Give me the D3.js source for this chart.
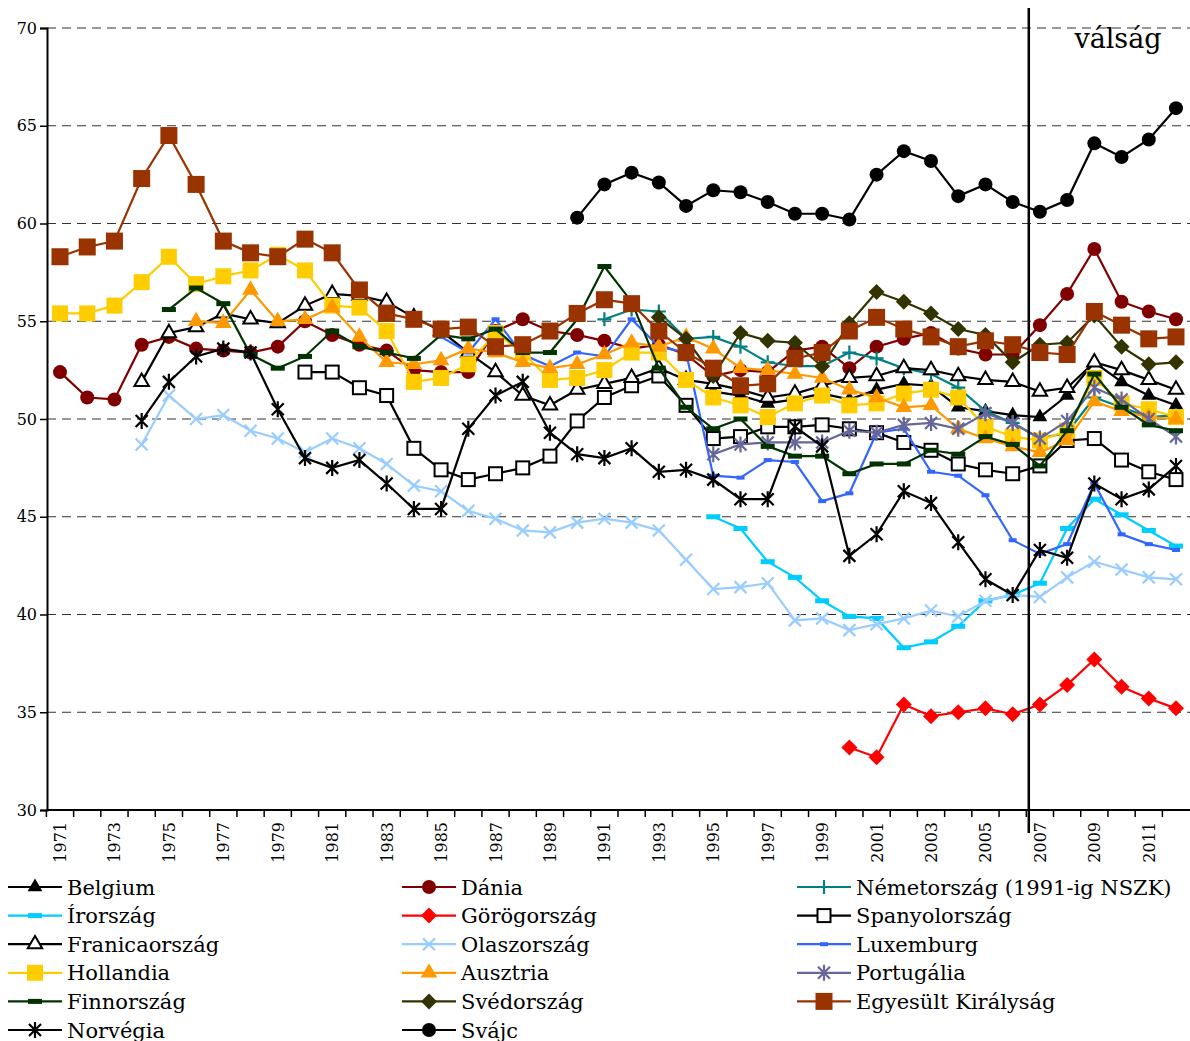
<!DOCTYPE html>
<meta charset="utf-8">
<script src="https://d3js.org/d3.v7.min.js"></script>
<style>
  body { margin: 0; background: #fff; }
  text { font-family: "DejaVu Serif", serif; fill: #000; }
</style>
<body>
  <div id="chart"></div>
</body>
<script>

  // years on the category axis and y ticks
  const years = d3.range(1971, 2013);
  const yTicks = [30, 35, 40, 45, 50, 55, 60, 65, 70];

  // values per country, each list begins at its start year
  const belgium = [51.4, 51.2, 50.8, 51.0, 51.3, 51.0, 51.5, 51.8, 51.7, 50.6, 50.4, 50.2, 50.1, 51.2, 52.9, 51.9, 51.2, 50.7];
  const denmark = [52.4, 51.1, 51.0, 53.8, 54.2, 53.6, 53.5, 53.4, 53.7, 55.0, 54.3, 53.8, 53.5, 52.5, 52.4, 52.4, 54.5, 55.1, 54.5, 54.3,
                   54.0, 53.6, 53.8, 53.3, 52.2, 52.5, 52.4, 53.5, 53.7, 52.6, 53.7, 54.1, 54.4, 53.6, 53.3, 53.3, 54.8, 56.4, 58.7, 56.0, 55.5, 55.1];
  const germany = [55.1, 55.6, 55.5, 54.1, 54.2, 53.7, 52.9, 52.7, 52.7, 53.4, 53.1, 52.6, 52.3, 51.6, 50.4, 49.8, 49.0, 49.3, 51.1, 50.6, 50.1, 50.2];
  const ireland = [45.0, 44.4, 42.7, 41.9, 40.7, 39.9, 39.8, 38.3, 38.6, 39.4, 40.7, 41.0, 41.6, 44.4, 45.9, 45.1, 44.3, 43.5];
  const greece = [33.2, 32.7, 35.4, 34.8, 35.0, 35.2, 34.9, 35.4, 36.4, 37.7, 36.3, 35.7, 35.2];
  const spain = [52.4, 52.4, 51.6, 51.2, 48.5, 47.4, 46.9, 47.2, 47.5, 48.1, 49.9, 51.1, 51.7, 52.2, 50.7, 49.0, 49.1, 49.6, 49.6, 49.7,
                 49.5, 49.3, 48.8, 48.4, 47.7, 47.4, 47.2, 47.6, 48.9, 49.0, 47.9, 47.3, 46.9];
  const france = [51.9, 54.4, 54.7, 55.4, 55.1, 54.9, 55.8, 56.4, 56.3, 56.0, 55.2, 54.5, 53.4, 52.4, 51.2, 50.7, 51.5, 51.8, 52.1, 52.6,
                  52.0, 51.8, 51.5, 51.1, 51.3, 51.7, 52.1, 52.2, 52.6, 52.5, 52.2, 52.0, 51.9, 51.4, 51.6, 52.9, 52.5, 52.0, 51.5];
  const italy = [48.7, 51.2, 50.0, 50.2, 49.4, 49.0, 48.3, 49.0, 48.5, 47.7, 46.6, 46.3, 45.3, 44.9, 44.3, 44.2, 44.7, 44.9, 44.7, 44.3,
                 42.8, 41.3, 41.4, 41.6, 39.7, 39.8, 39.2, 39.5, 39.8, 40.2, 39.9, 40.7, 41.0, 40.9, 41.9, 42.7, 42.3, 41.9, 41.8];
  const luxembourg = [54.2, 53.4, 55.1, 53.3, 52.7, 53.4, 53.2, 55.1, 53.7, 53.4, 47.1, 47.0, 47.9, 47.8, 45.8, 46.2, 49.3, 49.5, 47.3, 47.1,
                      46.1, 43.8, 43.1, 43.6, 46.7, 44.1, 43.6, 43.3];
  const netherlands = [55.4, 55.4, 55.8, 57.0, 58.3, 56.9, 57.3, 57.6, 58.4, 57.6, 55.8, 55.7, 54.5, 51.9, 52.1, 52.8, 54.4, 53.4, 52.0, 52.1,
                       52.5, 53.4, 53.4, 52.0, 51.1, 50.7, 50.1, 50.8, 51.2, 50.7, 50.8, 51.3, 51.5, 51.1, 49.6, 49.1, 48.9, 49.4, 52.1, 50.8, 50.5, 50.1];
  const austria = [55.0, 54.9, 56.6, 55.0, 55.1, 55.7, 54.2, 52.9, 52.8, 53.0, 53.6, 53.4, 52.9, 52.6, 52.8, 53.3, 53.9, 53.7, 54.2, 53.6,
                   52.6, 52.5, 52.3, 52.1, 51.5, 51.1, 50.6, 50.7, 49.5, 49.0, 48.6, 48.3, 48.9, 50.9, 50.4, 50.1, 50.0];
  const portugal = [48.2, 48.7, 48.8, 48.8, 48.8, 49.4, 49.3, 49.7, 49.8, 49.5, 50.3, 49.8, 49.0, 49.9, 51.6, 51.0, 50.0, 49.1];
  const finland = [55.6, 56.7, 55.9, 53.3, 52.6, 53.2, 54.5, 53.7, 53.4, 53.1, 54.3, 54.1, 54.6, 53.4, 53.4, 55.1, 57.8, 56.0, 52.6, 50.6,
                   49.5, 50.0, 48.6, 48.1, 48.1, 47.2, 47.7, 47.7, 48.4, 48.2, 49.1, 48.7, 47.6, 49.4, 52.3, 50.6, 49.7, 49.4];
  const sweden = [55.2, 54.1, 52.2, 54.4, 54.0, 53.9, 52.7, 54.9, 56.5, 56.0, 55.4, 54.6, 54.3, 52.9, 53.8, 53.9, 55.3, 53.7, 52.8, 52.9];
  const uk = [58.3, 58.8, 59.1, 62.3, 64.5, 62.0, 59.1, 58.5, 58.3, 59.2, 58.5, 56.6, 55.4, 55.1, 54.6, 54.7, 53.7, 53.8, 54.5, 55.4,
              56.1, 55.9, 54.5, 53.4, 52.6, 51.7, 51.8, 53.1, 53.4, 54.5, 55.2, 54.6, 54.2, 53.7, 54.0, 53.8, 53.4, 53.3, 55.5, 54.8, 54.1, 54.2];
  const norway = [49.9, 51.9, 53.2, 53.6, 53.4, 50.5, 48.0, 47.5, 47.9, 46.7, 45.4, 45.4, 49.5, 51.2, 51.9, 49.3, 48.2, 48.0, 48.5, 47.3,
                  47.4, 46.9, 45.9, 45.9, 49.6, 48.6, 43.0, 44.1, 46.3, 45.7, 43.7, 41.8, 41.0, 43.3, 42.9, 46.7, 45.9, 46.4, 47.6];
  const switzerland = [60.3, 62.0, 62.6, 62.1, 60.9, 61.7, 61.6, 61.1, 60.5, 60.5, 60.2, 62.5, 63.7, 63.2, 61.4, 62.0, 61.1, 60.6, 61.2, 64.1, 63.4, 64.3, 65.9];

  const names = ["Belgium", "Dánia", "Németország (1991-ig NSZK)", "Írország", "Görögország", "Spanyolország",
                 "Franicaország", "Olaszország", "Luxemburg", "Hollandia", "Ausztria", "Portugália",
                 "Finnország", "Svédország", "Egyesült Királyság", "Norvégia", "Svájc"];
  const startYears = [1995, 1971, 1991, 1995, 2000, 1980, 1974, 1974, 1985, 1971, 1976, 1995, 1975, 1993, 1971, 1974, 1990];
  const valueLists = [belgium, denmark, germany, ireland, greece, spain, france, italy, luxembourg,
                      netherlands, austria, portugal, finland, sweden, uk, norway, switzerland];
  const colors = ["#000000", "#800000", "#008080", "#00CCFF", "#FF0000", "#000000", "#000000", "#99CCFF", "#3366FF",
                  "#FFCC00", "#FF9900", "#666699", "#003300", "#333300", "#993300", "#000000", "#000000"];
  const markers = ["tri", "circle", "plus", "dash", "diamond", "opensquare", "opentri", "cross", "smalldash",
                   "square", "bigtri", "star", "dash", "diamond", "bigsquare", "star", "circle"];

  const series = names.map((name, i) => ({
    name: name,
    color: colors[i],
    marker: markers[i],
    points: valueLists[i].map((v, j) => ({ year: startYears[i] + j, v: v }))
  }));

  const W = 1190, H = 1041;
  const svg = d3.select("#chart").append("svg")
    .attr("width", W).attr("height", H);

  const x = d3.scaleBand().domain(years).range([46.4, 1189.6]);
  const bw = x.bandwidth();
  const cx = yr => x(yr) + bw / 2;
  const y = d3.scaleLinear().domain([30, 70]).range([810, 28]);

  // dashed gridlines
  svg.append("g")
    .selectAll("line")
    .data(yTicks.slice(1))
    .join("line")
      .attr("x1", 47).attr("x2", 1190)
      .attr("y1", d => y(d)).attr("y2", d => y(d))
      .attr("stroke", "#333").attr("stroke-width", 1.2)
      .attr("stroke-dasharray", "9,6");

  // y axis
  const yAxis = svg.append("g")
    .attr("transform", "translate(47,0)")
    .call(d3.axisLeft(y).tickValues(yTicks).tickSize(7).tickPadding(3).tickFormat(d3.format("d")));
  yAxis.select(".domain").attr("stroke-width", 2);
  yAxis.selectAll(".tick line").attr("stroke-width", 1.5);
  yAxis.selectAll("text").style("font-family", "DejaVu Serif").style("font-size", "16px");

  // x axis: ticks at category boundaries
  const xg = svg.append("g");
  xg.append("line").attr("x1", 46).attr("x2", 1190).attr("y1", 810).attr("y2", 810)
    .attr("stroke", "#000").attr("stroke-width", 2);
  xg.selectAll(".xt")
    .data(years)
    .join("line")
      .attr("class", "xt")
      .attr("x1", d => x(d)).attr("x2", d => x(d))
      .attr("y1", 810).attr("y2", 817)
      .attr("stroke", "#000").attr("stroke-width", 1.5);
  xg.selectAll(".xl")
    .data(years.filter((d, i) => i % 2 === 0))
    .join("text")
      .attr("class", "xl")
      .attr("transform", d => `translate(${cx(d) + 6},822) rotate(-90)`)
      .attr("text-anchor", "end")
      .style("font-size", "16px")
      .text(d => d);

  // marker drawing
  function marker(g, type, color) {
    switch (type) {
      case "circle":
        g.append("circle").attr("r", 7).attr("fill", color); break;
      case "tri":
        g.append("path").attr("d", d3.symbol(d3.symbolTriangle, 95)()).attr("fill", color); break;
      case "bigtri":
        g.append("path").attr("d", d3.symbol(d3.symbolTriangle, 120)()).attr("fill", color); break;
      case "opentri":
        g.append("path").attr("d", d3.symbol(d3.symbolTriangle, 90)()).attr("fill", "#fff")
          .attr("stroke", color).attr("stroke-width", 2); break;
      case "square":
        g.append("rect").attr("x", -8).attr("y", -8).attr("width", 16).attr("height", 16).attr("fill", color); break;
      case "bigsquare":
        g.append("rect").attr("x", -8.5).attr("y", -8.5).attr("width", 17).attr("height", 17).attr("fill", color); break;
      case "opensquare":
        g.append("rect").attr("x", -6.5).attr("y", -6.5).attr("width", 13).attr("height", 13).attr("fill", "#fff")
          .attr("stroke", color).attr("stroke-width", 2); break;
      case "diamond":
        g.append("path").attr("d", "M0,-8L8,0L0,8L-8,0Z").attr("fill", color); break;
      case "plus":
        g.append("path").attr("d", "M-7,0H7M0,-7V7").attr("stroke", color).attr("stroke-width", 2.2); break;
      case "cross":
        g.append("path").attr("d", "M-6,-6L6,6M-6,6L6,-6").attr("stroke", color).attr("stroke-width", 2.2); break;
      case "star":
        g.append("path").attr("d", "M-6,-6L6,6M-6,6L6,-6M0,-8V8").attr("stroke", color).attr("stroke-width", 2.2); break;
      case "dash":
        g.append("rect").attr("x", -7).attr("y", -2.5).attr("width", 14).attr("height", 5).attr("fill", color); break;
      case "smalldash":
        g.append("rect").attr("x", -4).attr("y", -2).attr("width", 8).attr("height", 4).attr("fill", color); break;
    }
  }

  const line = d3.line().x(d => cx(d.year)).y(d => y(d.v));

  const plot = svg.append("g");
  series.forEach(s => {
    const g = plot.append("g");
    g.append("path")
      .attr("d", line(s.points))
      .attr("fill", "none")
      .attr("stroke", s.color)
      .attr("stroke-width", 2.2);
    g.selectAll(".m")
      .data(s.points)
      .join("g")
        .attr("class", "m")
        .attr("transform", d => `translate(${cx(d.year)},${y(d.v)})`)
        .each(function() { marker(d3.select(this), s.marker, s.color); });
  });

  // crisis line and label
  const crisisX = x(2007) + 2.5;
  svg.append("line")
    .attr("x1", crisisX).attr("x2", crisisX)
    .attr("y1", 8).attr("y2", 833)
    .attr("stroke", "#000").attr("stroke-width", 2.5);
  svg.append("text")
    .attr("x", 1118).attr("y", 48)
    .attr("text-anchor", "middle")
    .style("font-size", "27px")
    .text("válság");

  // legend: 3 columns, row-major
  const colX = [8, 402, 797];
  const legend = svg.append("g");
  series.forEach((s, i) => {
    const col = i % 3, row = Math.floor(i / 3);
    const ly = 887 + row * 28.6;
    const g = legend.append("g").attr("transform", `translate(${colX[col]},${ly})`);
    g.append("line").attr("x1", 0).attr("x2", 54).attr("y1", 0).attr("y2", 0)
      .attr("stroke", s.color).attr("stroke-width", 2.2);
    marker(g.append("g").attr("transform", "translate(27,0)"), s.marker, s.color);
    g.append("text")
      .attr("x", 59).attr("y", 7.5)
      .style("font-size", "21px")
      .text(s.name);
  });

</script>
